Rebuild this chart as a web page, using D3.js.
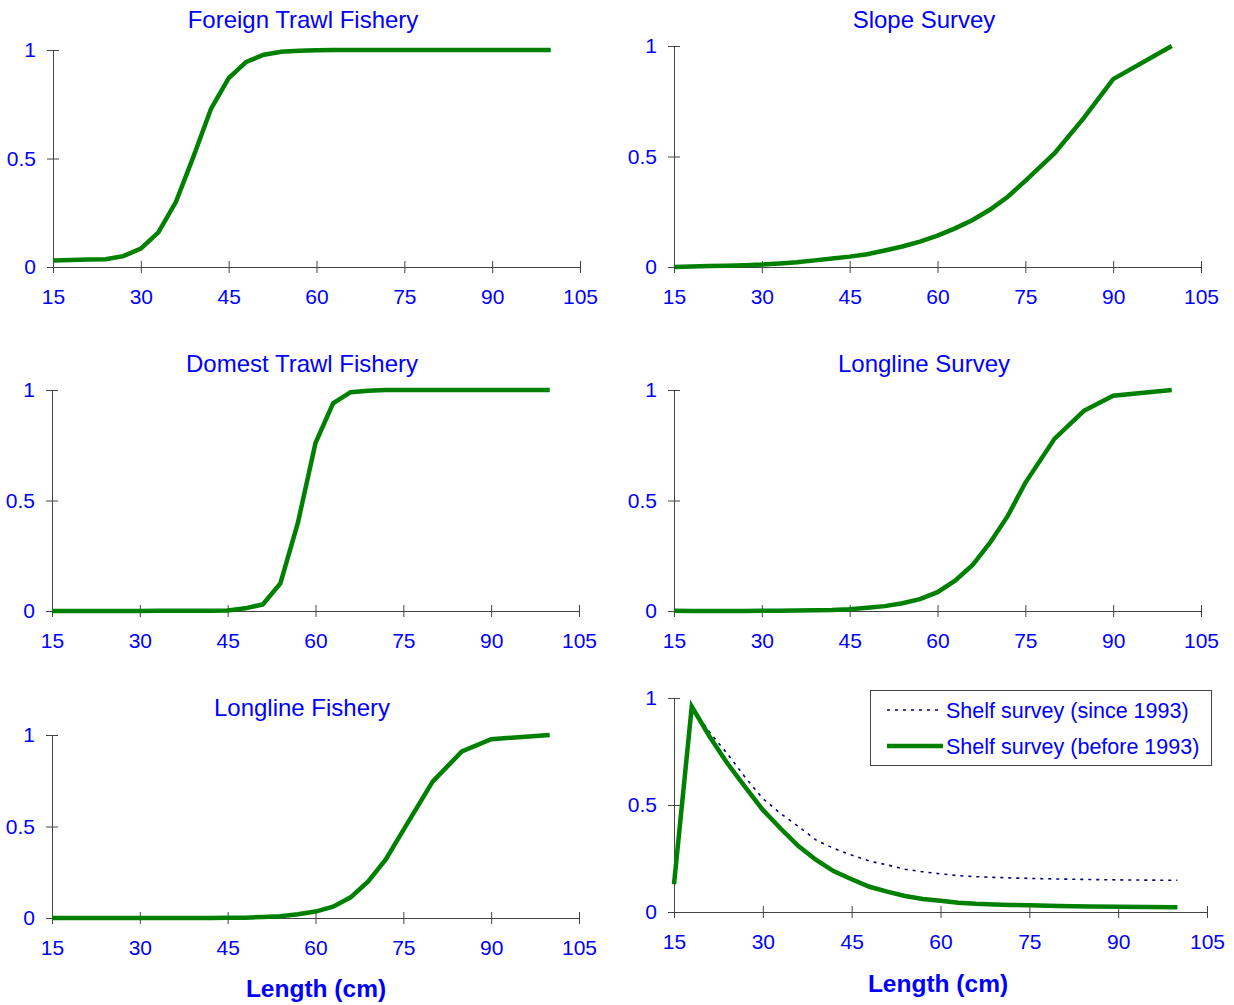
<!DOCTYPE html>
<html>
<head>
<meta charset="utf-8">
<script src="https://cdn.jsdelivr.net/npm/d3@7"></script>
<style>
  body { margin: 0; background: #fff; }
  svg { display: block; font-family: "Liberation Sans", Arial, sans-serif; }
  .tick text { fill: #0000ff; font-size: 21px; }
  .tick line, .domain { stroke: #444; stroke-width: 1px; }
</style>
</head>
<body>
<div id="chart"></div>
<script>
// Length bins (cm) and selectivity values
var lengths = [15, 18, 21, 24, 27, 30, 33, 36, 39, 42, 45, 48, 51, 54, 57, 60, 63, 66, 69, 72, 75, 80, 85, 90, 100];

var foreignTrawl   = [0.030, 0.032, 0.034, 0.036, 0.050, 0.085, 0.160, 0.300, 0.510, 0.730, 0.870, 0.945, 0.978, 0.992, 0.997, 0.999, 1, 1, 1, 1, 1, 1, 1, 1, 1];
var slopeSurvey    = [0.000, 0.002, 0.004, 0.006, 0.008, 0.011, 0.016, 0.022, 0.030, 0.038, 0.047, 0.058, 0.075, 0.093, 0.115, 0.142, 0.175, 0.213, 0.260, 0.318, 0.390, 0.515, 0.675, 0.850, 1.000];
var domestTrawl    = [0, 0, 0, 0, 0, 0, 0.001, 0.001, 0.001, 0.001, 0.002, 0.012, 0.030, 0.125, 0.400, 0.760, 0.940, 0.990, 0.997, 1, 1, 1, 1, 1, 1];
var longlineSurvey = [0.001, 0, 0, 0, 0, 0.001, 0.001, 0.002, 0.003, 0.004, 0.008, 0.015, 0.022, 0.035, 0.054, 0.085, 0.137, 0.208, 0.310, 0.430, 0.580, 0.780, 0.906, 0.974, 1.000];
var longlineFishery = [0, 0, 0, 0, 0, 0, 0, 0, 0, 0, 0.001, 0.002, 0.005, 0.010, 0.020, 0.035, 0.062, 0.113, 0.200, 0.320, 0.480, 0.745, 0.910, 0.977, 1.000];
var shelfSince     = [0.13, 0.96, 0.84, 0.74, 0.63, 0.53, 0.46, 0.40, 0.336, 0.297, 0.266, 0.238, 0.220, 0.200, 0.188, 0.178, 0.170, 0.165, 0.162, 0.159, 0.157, 0.154, 0.152, 0.150, 0.148];
var shelfBefore    = [0.13, 0.96, 0.82, 0.695, 0.585, 0.477, 0.390, 0.308, 0.243, 0.190, 0.153, 0.118, 0.095, 0.075, 0.061, 0.053, 0.043, 0.038, 0.035, 0.033, 0.031, 0.028, 0.026, 0.024, 0.022];

var xTicks = [15, 30, 45, 60, 75, 90, 105];
var yTicks = [0, 0.5, 1];
var legendLabels = ["Shelf survey (since 1993)", "Shelf survey (before 1993)"];

var width = 1234, height = 1005;
var green = "#008000", navy = "#000080", blue = "#0000ff";

var svg = d3.select("#chart").append("svg")
    .attr("width", width)
    .attr("height", height);

// panel boxes: left/right = x 15..105, top/bottom = y 1..0
var panels = [
  { title: "Foreign Trawl Fishery", values: foreignTrawl,   l: 53,  r: 580,  t: 50,  b: 267, ty: 28 },
  { title: "Slope Survey",          values: slopeSurvey,    l: 674, r: 1201, t: 46,  b: 267, ty: 28 },
  { title: "Domest Trawl Fishery",  values: domestTrawl,    l: 52,  r: 579,  t: 390, b: 611, ty: 372 },
  { title: "Longline Survey",       values: longlineSurvey, l: 674, r: 1201, t: 390, b: 611, ty: 372 },
  { title: "Longline Fishery",      values: longlineFishery, l: 52, r: 579,  t: 735, b: 918, ty: 716, xlabel: 997 },
  { title: null,                    values: null,           l: 674, r: 1207, t: 698, b: 912, xlabel: 992, shelf: true }
];

panels.forEach(function(p) {
  var x = d3.scaleLinear().domain([15, 105]).range([p.l, p.r]);
  var y = d3.scaleLinear().domain([0, 1]).range([p.b, p.t]);

  var g = svg.append("g");

  // axes with ticks crossing the axis line
  var xa = g.append("g")
      .attr("transform", "translate(0," + p.b + ")")
      .call(d3.axisBottom(x).tickValues(xTicks).tickSize(6).tickSizeOuter(0).tickPadding(16).tickFormat(d3.format("d")));
  xa.selectAll(".tick line").attr("y1", -6);

  var ya = g.append("g")
      .attr("transform", "translate(" + p.l + ",0)")
      .call(d3.axisLeft(y).tickValues(yTicks).tickSize(6).tickSizeOuter(0).tickPadding(11).tickFormat(function(d) { return d; }));
  ya.selectAll(".tick line").attr("x1", 6);

  var line = d3.line()
      .x(function(d) { return x(d[0]); })
      .y(function(d) { return y(d[1]); });

  if (p.values) {
    g.append("path")
        .datum(d3.zip(lengths, p.values))
        .attr("d", line)
        .attr("fill", "none")
        .attr("stroke", green)
        .attr("stroke-width", 4.5);
  }

  if (p.shelf) {
    g.append("path")
        .datum(d3.zip(lengths, shelfSince))
        .attr("d", line)
        .attr("fill", "none")
        .attr("stroke", navy)
        .attr("stroke-width", 1.6)
        .attr("stroke-dasharray", "3,5");
    g.append("path")
        .datum(d3.zip(lengths, shelfBefore))
        .attr("d", line)
        .attr("fill", "none")
        .attr("stroke", green)
        .attr("stroke-width", 4.5);

    // legend
    var lg = svg.append("g");
    lg.append("rect")
        .attr("x", 870.5).attr("y", 690.5)
        .attr("width", 341).attr("height", 75)
        .attr("fill", "#fff")
        .attr("stroke", "#444");
    var styles = [
      { stroke: navy, w: 1.6, dash: "3,5", y: 710 },
      { stroke: green, w: 4.5, dash: null, y: 746 }
    ];
    styles.forEach(function(s, i) {
      lg.append("line")
          .attr("x1", 887).attr("x2", 943)
          .attr("y1", s.y).attr("y2", s.y)
          .attr("stroke", s.stroke)
          .attr("stroke-width", s.w)
          .attr("stroke-dasharray", s.dash);
      lg.append("text")
          .attr("x", 946).attr("y", s.y + 8)
          .attr("fill", blue)
          .style("font-size", "21.5px")
          .text(legendLabels[i]);
    });
  }

  if (p.title) {
    g.append("text")
        .attr("x", p.l + 250)
        .attr("y", p.ty)
        .attr("text-anchor", "middle")
        .attr("fill", blue)
        .style("font-size", "24px")
        .text(p.title);
  }

  if (p.xlabel) {
    g.append("text")
        .attr("x", p.l + 264)
        .attr("y", p.xlabel)
        .attr("text-anchor", "middle")
        .attr("fill", blue)
        .style("font-size", "24.5px")
        .style("font-weight", "bold")
        .text("Length (cm)");
  }
});
</script>
</body>
</html>
